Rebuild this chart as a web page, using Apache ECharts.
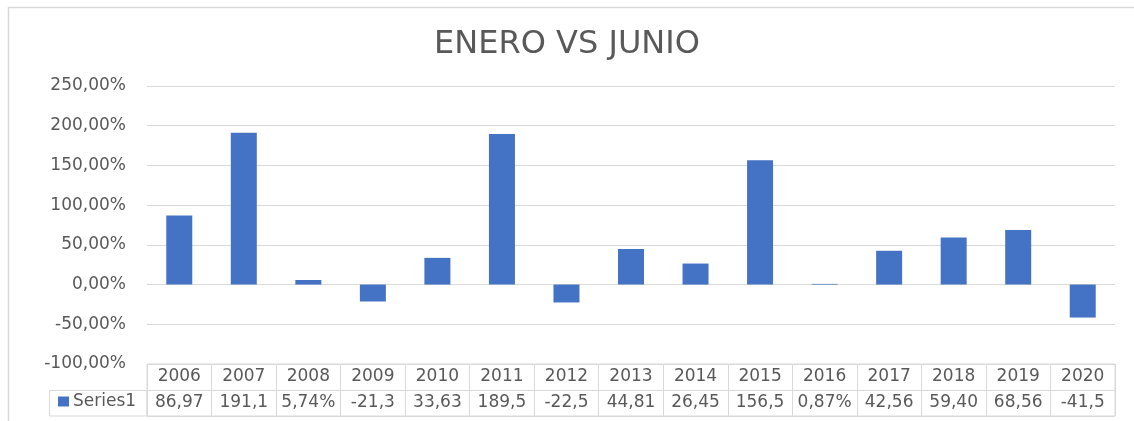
<!DOCTYPE html>
<html lang="es">
<head>
<meta charset="UTF-8">
<title>ENERO VS JUNIO</title>
<script src="https://cdn.jsdelivr.net/npm/echarts@6/dist/echarts.min.js"></script>
<style>
  html, body { margin: 0; padding: 0; background: #fff; }
  #main { width: 1134px; height: 421px; }
</style>
</head>
<body>
<div id="main"></div>
<script>
// datos
var years = ['2006', '2007', '2008', '2009', '2010', '2011', '2012', '2013', '2014', '2015', '2016', '2017', '2018', '2019', '2020'];
var series1 = [86.97, 191.12, 5.74, -21.31, 33.63, 189.54, -22.52, 44.81, 26.45, 156.53, 0.87, 42.56, 59.40, 68.56, -41.52];
var yTicks = [-100, -50, 0, 50, 100, 150, 200, 250];

var gray = '#595959';
var lineGray = '#d9d9d9';
var font = 'DejaVu Sans';

// formato tipo Excel: 2 decimales con coma, recortado a 5 caracteres como en la tabla
function pct(v) {
    return v.toFixed(2).replace('.', ',') + '%';
}
function cell(v) {
    return pct(v).substring(0, 5);
}

var myChart = echarts.init(document.getElementById('main'));

var option = {
    animation: false,
    title: {
        text: 'ENERO VS JUNIO',
        left: 'center',
        top: 24,
        textStyle: { fontFamily: font, fontSize: 32, fontWeight: 'normal', color: gray }
    },
    legend: {
        left: 58,
        top: 393,
        padding: 0,
        itemWidth: 11,
        itemHeight: 10,
        itemGap: 6,
        icon: 'rect',
        textStyle: { fontFamily: font, fontSize: 17, color: gray, padding: [0, 0, 0, -1] },
        data: ['Series1']
    },
    grid: [
        { left: 147, right: 19, top: 86, height: 278 },
        // tabla de datos
        { left: 147, right: 19, top: 364, height: 52, show: true, borderColor: lineGray, borderWidth: 1 }
    ],
    xAxis: [
        {
            gridIndex: 0,
            type: 'category',
            data: years,
            axisLine: { show: false },
            axisTick: { show: false },
            axisLabel: { show: false }
        },
        {
            gridIndex: 1,
            type: 'category',
            data: years,
            position: 'top',
            axisLine: { show: false },
            axisTick: { show: false },
            splitLine: { show: true, interval: 0, lineStyle: { color: lineGray, width: 1 } },
            axisLabel: {
                inside: true, margin: 0, interval: 0, lineHeight: 26,
                fontFamily: font, fontSize: 17, color: gray
            }
        },
        {
            gridIndex: 1,
            type: 'category',
            data: years,
            position: 'bottom',
            axisLine: { show: false },
            axisTick: { show: false },
            axisLabel: {
                inside: true, margin: 0, interval: 0, lineHeight: 26,
                fontFamily: font, fontSize: 17, color: gray,
                formatter: function (val, idx) { return cell(series1[idx]); }
            }
        }
    ],
    yAxis: [
        {
            gridIndex: 0,
            type: 'value',
            min: yTicks[0],
            max: yTicks[yTicks.length - 1],
            interval: 50,
            axisLine: { show: false },
            axisTick: { show: false },
            splitLine: { lineStyle: { color: lineGray, width: 1 } },
            axisLabel: {
                margin: 21,
                fontFamily: font, fontSize: 17, color: gray,
                formatter: function (v) { return pct(v); }
            }
        },
        {
            gridIndex: 1,
            type: 'category',
            data: ['', ''],
            axisLine: { show: false },
            axisTick: { show: false },
            axisLabel: { show: false },
            splitLine: { show: true, interval: 0, lineStyle: { color: lineGray, width: 1 } }
        }
    ],
    graphic: [
        // borde del area del grafico
        { type: 'rect', shape: { x: 8.5, y: 7.5, width: 1200, height: 500 }, style: { fill: 'none', stroke: lineGray, lineWidth: 1.5 }, silent: true },
        // celda de la leyenda en la tabla
        { type: 'rect', shape: { x: 49.5, y: 390.5, width: 97.5, height: 25.5 }, style: { fill: 'none', stroke: lineGray, lineWidth: 1 }, silent: true }
    ],
    series: [{
        name: 'Series1',
        type: 'bar',
        xAxisIndex: 0,
        yAxisIndex: 0,
        data: series1,
        barWidth: 26,
        itemStyle: { color: '#4472C4' }
    }]
};

myChart.setOption(option);
window.onresize = myChart.resize;
</script>
</body>
</html>
